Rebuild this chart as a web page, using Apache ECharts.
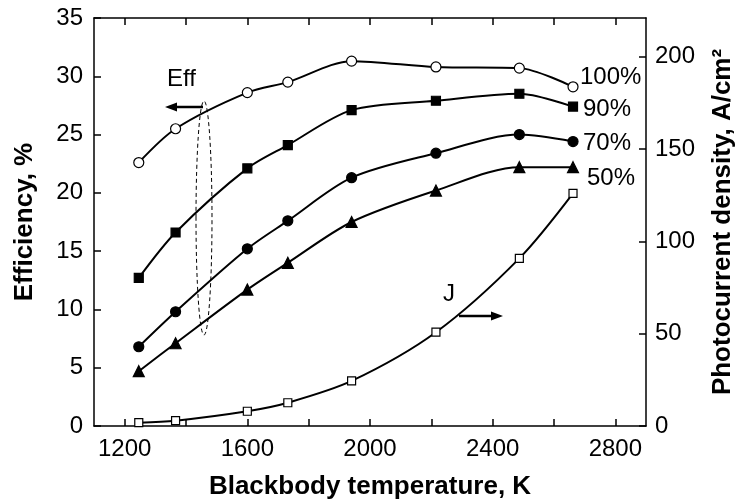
<!DOCTYPE html>
<html>
<head>
<meta charset="utf-8">
<script src="https://cdn.jsdelivr.net/npm/echarts@6/dist/echarts.min.js"></script>
<style>
  html, body { margin: 0; padding: 0; background: #fff; }
  #chart { width: 736px; height: 504px; }
</style>
</head>
<body>
<div id="chart"></div>
<script>
// blackbody temperature, K
const temps = [1246, 1366, 1600, 1732, 1940, 2215, 2487, 2662];
// efficiency, % (left axis)
const eff100 = [22.6, 25.5, 28.6, 29.5, 31.3, 30.8, 30.7, 29.1];
const eff90 = [12.7, 16.6, 22.1, 24.1, 27.1, 27.9, 28.5, 27.4];
const eff70 = [6.8, 9.8, 15.2, 17.6, 21.3, 23.4, 25.0, 24.4];
const eff50 = [4.7, 7.1, 11.7, 14.0, 17.5, 20.2, 22.2, 22.2];
// photocurrent density, A/cm2 (right axis)
const jData = [1.8, 2.9, 8.0, 12.6, 24.4, 50.8, 90.8, 126];

const xTicks = [1200, 1400, 1600, 1800, 2000, 2200, 2400, 2600, 2800];
const xLabels = [1200, 1600, 2000, 2400, 2800];
const rightTicks = [0, 50, 100, 150, 200];

const font = 'Liberation Sans, Arial, sans-serif';
const ink = '#000';

const pair = vals => temps.map((t, i) => [t, vals[i]]);

function curve(vals, symbol, size, fill, yIdx) {
  return {
    type: 'line',
    yAxisIndex: yIdx || 0,
    data: pair(vals),
    smooth: 0.3,
    symbol: symbol,
    symbolSize: size,
    showAllSymbol: true,
    lineStyle: { color: ink, width: 2 },
    itemStyle: { color: fill, borderColor: ink, borderWidth: 1.2 },
    emphasis: { disabled: true },
    z: 3,
  };
}

const axisLine = { show: true, onZero: false, lineStyle: { color: ink, width: 1.5 } };
const tickStyle = { inside: true, length: 7, lineStyle: { color: ink, width: 1.5 } };

const chart = echarts.init(document.getElementById('chart'));
chart.setOption({
  animation: false,
  backgroundColor: '#fff',
  textStyle: { fontFamily: font },
  grid: { left: 94, right: 90, top: 18, bottom: 78, containLabel: false, outerBoundsMode: 'none' },
  xAxis: [
    {
      type: 'value',
      min: 1100,
      max: 2900,
      axisLine,
      axisTick: Object.assign({ customValues: xTicks }, tickStyle),
      axisLabel: { customValues: xLabels, color: ink, fontSize: 24, margin: 11, formatter: v => String(v) },
      splitLine: { show: false },
      name: 'Blackbody temperature, K',
      nameLocation: 'middle',
      nameGap: 48,
      nameTextStyle: { color: ink, fontSize: 26, fontWeight: 'bold' },
    },
    {
      type: 'value',
      position: 'top',
      min: 1100,
      max: 2900,
      axisLine,
      axisTick: Object.assign({ customValues: xTicks }, tickStyle),
      axisLabel: { show: false },
      splitLine: { show: false },
    },
  ],
  yAxis: [
    {
      type: 'value',
      min: 0,
      max: 35,
      interval: 5,
      axisLine,
      axisTick: tickStyle,
      axisLabel: { color: ink, fontSize: 24, margin: 11 },
      splitLine: { show: false },
      name: 'Efficiency, %',
      nameLocation: 'middle',
      nameGap: 56,
      nameTextStyle: { color: ink, fontSize: 26, fontWeight: 'bold' },
    },
    {
      type: 'value',
      position: 'right',
      min: 0,
      max: 221,
      axisLine,
      axisTick: Object.assign({ customValues: rightTicks }, tickStyle),
      axisLabel: { customValues: rightTicks, color: ink, fontSize: 24, margin: 9 },
      splitLine: { show: false },
      name: 'Photocurrent density, A/cm²',
      nameLocation: 'middle',
      nameGap: 64,
      nameRotate: 90,
      nameTextStyle: { color: ink, fontSize: 26, fontWeight: 'bold' },
    },
  ],
  series: [
    curve(eff100, 'circle', 10, '#fff'),
    curve(eff90, 'rect', 9, ink),
    curve(eff70, 'circle', 10, ink),
    curve(eff50, 'triangle', 11, ink),
    curve(jData, 'rect', 8, '#fff', 1),
  ],
  graphic: [
    { type: 'text', left: 167, top: 67, style: { text: 'Eff', font: '24px ' + font, fill: ink } },
    { type: 'line', shape: { x1: 203, y1: 107, x2: 172, y2: 107 }, style: { stroke: ink, lineWidth: 2.5 } },
    { type: 'polygon', shape: { points: [[165, 107], [177, 102.5], [177, 111.5]] }, style: { fill: ink } },
    {
      type: 'ellipse',
      shape: { cx: 204, cy: 218, rx: 8, ry: 117 },
      style: { fill: 'none', stroke: ink, lineWidth: 1, lineDash: [4, 3] },
    },
    { type: 'text', left: 443, top: 282, style: { text: 'J', font: '24px ' + font, fill: ink } },
    { type: 'line', shape: { x1: 459, y1: 316, x2: 495, y2: 316 }, style: { stroke: ink, lineWidth: 2.5 } },
    { type: 'polygon', shape: { points: [[503, 316], [491, 311.5], [491, 320.5]] }, style: { fill: ink } },
    { type: 'text', left: 580, top: 65, style: { text: '100%', font: '24px ' + font, fill: ink } },
    { type: 'text', left: 583, top: 97, style: { text: '90%', font: '24px ' + font, fill: ink } },
    { type: 'text', left: 583, top: 131, style: { text: '70%', font: '24px ' + font, fill: ink } },
    { type: 'text', left: 587, top: 166, style: { text: '50%', font: '24px ' + font, fill: ink } },
  ],
});
</script>
</body>
</html>
